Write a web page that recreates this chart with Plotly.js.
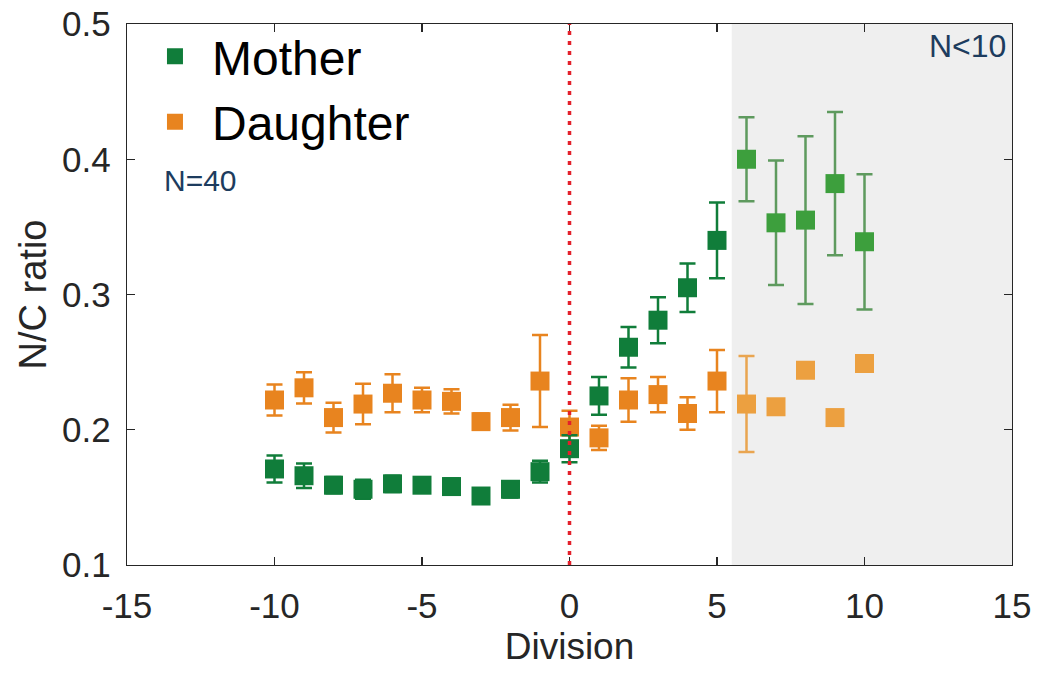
<!DOCTYPE html>
<html>
<head>
<meta charset="utf-8">
<script src="https://cdn.plot.ly/plotly-3.0.1.min.js"></script>
<style>html,body{margin:0;padding:0;background:#fff;}#chart{width:1038px;height:675px;}</style>
</head>
<body>
<div id="chart"></div>
<script>
// ---- data ----
const divisions    = [-10,-9,-8,-7,-6,-5,-4,-3,-2,-1,0,1,2,3,4,5,6,7,8,9,10];
const motherMean   = [0.171,0.166,0.159,0.156,0.160,0.159,0.158,0.151,0.156,0.169,0.186,0.225,0.261,0.281,0.305,0.340,0.400,0.353,0.355,0.382,0.339];
const motherErr    = [0.010,0.009,0.006,0.007,0.006,0.005,0.006,0.004,0.006,0.008,0.010,0.014,0.015,0.017,0.018,0.028,0.031,0.046,0.062,0.053,0.050];
const daughterMean = [0.222,0.231,0.209,0.219,0.227,0.222,0.221,0.206,0.209,0.236,0.202,0.194,0.222,0.226,0.212,0.236,0.219,0.217,0.244,0.209,0.249];
const daughterErr  = [0.0115,0.0115,0.011,0.015,0.014,0.009,0.009,0.006,0.0095,0.034,0.012,0.009,0.016,0.013,0.012,0.023,0.0355,0,0,0,0];
const seriesNames  = ['Mother','Daughter'];
const lowNStart    = 5.5;   // start of the N<10 shaded range
const lowNEnd      = 15;
const divisionLine = 0;
const xTicks = [-15,-10,-5,0,5,10,15];
const yTicks = [0.1,0.2,0.3,0.4,0.5];
const labelAll = 'N=40';
const labelLow = 'N<10';

const FONT = 'Liberation Sans, Arial, sans-serif';
const TXT = '#262626';

function pick(arr, keep) { return arr.filter((_, i) => keep(divisions[i])); }
const inMain = d => d < lowNStart;
const inLow  = d => d >= lowNStart;

function series(name, mean, err, col, errCol, group, rank, showLeg, keep) {
  return {
    type: 'scatter', mode: 'markers', name: name,
    x: pick(divisions, keep), y: pick(mean, keep),
    error_y: {type: 'data', array: pick(err, keep), visible: true, color: errCol, thickness: 2.5, width: 8},
    marker: {symbol: 'square', size: 19, color: col, line: {width: 0}},
    legendgroup: group, legendrank: rank, showlegend: showLeg,
    hoverinfo: 'x+y'
  };
}

const traces = [
  series(seriesNames[1], daughterMean, daughterErr, '#e8841f', '#e8841f', 'd', 2, true, inMain),
  series(seriesNames[1], daughterMean, daughterErr, '#eca040', '#e9a550', 'd', 2, false, inLow),
  series(seriesNames[0], motherMean, motherErr, '#107d3a', '#107d3a', 'm', 1, true, inMain),
  series(seriesNames[0], motherMean, motherErr, '#3d9f3d', '#5e9a5e', 'm', 1, false, inLow)
];

const layout = {
  width: 1038, height: 675,
  margin: {l: 127, r: 26, t: 24, b: 110},
  paper_bgcolor: '#ffffff', plot_bgcolor: '#ffffff',
  font: {family: FONT, color: TXT},
  showlegend: true,
  legend: {
    x: 0.0124, y: 1.01, xanchor: 'left', yanchor: 'top',
    bgcolor: 'rgba(0,0,0,0)', borderwidth: 0,
    font: {family: FONT, size: 48, color: '#000000'},
    itemwidth: 64, traceorder: 'grouped', tracegroupgap: 0
  },
  xaxis: {
    range: [-15, 15], tickvals: xTicks, ticktext: xTicks.map(String),
    ticks: 'inside', ticklen: 8, tickwidth: 1.2, tickcolor: TXT,
    showline: true, linecolor: TXT, linewidth: 1.3, mirror: 'allticks',
    showgrid: false, zeroline: false,
    tickfont: {family: FONT, size: 35, color: TXT},
    ticklabelstandoff: 10,
    title: {text: 'Division', font: {family: FONT, size: 37, color: TXT}, standoff: 8}
  },
  yaxis: {
    range: [0.1, 0.5], tickvals: yTicks, ticktext: yTicks.map(v => v.toFixed(1)),
    ticks: 'inside', ticklen: 8, tickwidth: 1.2, tickcolor: TXT,
    showline: true, linecolor: TXT, linewidth: 1.3, mirror: 'allticks',
    showgrid: false, zeroline: false,
    tickfont: {family: FONT, size: 35, color: TXT},
    ticklabelstandoff: 8,
    title: {text: 'N/C ratio', font: {family: FONT, size: 38, color: TXT}, standoff: 3}
  },
  shapes: [
    {type: 'rect', xref: 'x', yref: 'paper', x0: lowNStart, x1: lowNEnd, y0: 0, y1: 1,
     fillcolor: '#efefef', line: {width: 0}, layer: 'below'},
    {type: 'line', xref: 'x', yref: 'paper', x0: divisionLine, x1: divisionLine, y0: 0, y1: 1,
     line: {color: '#e3202b', width: 3.5, dash: '4px,6px'}, layer: 'above'}
  ],
  annotations: [
    {xref: 'x', yref: 'y', x: -13.8, y: 0.384, xanchor: 'left', yanchor: 'middle',
     text: labelAll, showarrow: false, font: {family: FONT, size: 30, color: '#1d3c5e'}},
    {xref: 'x', yref: 'y', x: 14.85, y: 0.484, xanchor: 'right', yanchor: 'middle',
     text: labelLow, showarrow: false, font: {family: FONT, size: 32, color: '#1d3c5e'}}
  ]
};

Plotly.newPlot('chart', traces, layout, {displayModeBar: false, staticPlot: true});
</script>
</body>
</html>
